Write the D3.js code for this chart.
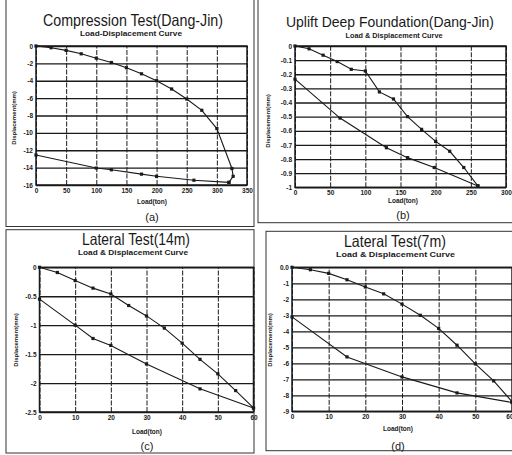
<!DOCTYPE html>
<html><head><meta charset="utf-8">
<script src="https://cdn.jsdelivr.net/npm/d3@7"></script>
<style>body{margin:0;background:#fff}svg{display:block}</style>
</head><body>
<svg id="chart" width="512" height="455"></svg>
<script>
// ---------- DATA ----------
// (a) Compression Test (Dang-Jin)
const loadA_loading = [0,25,50,75,100,125,150,175,200,225,250,275,300,325,327,320];
const dispA_loading = [0,-0.2,-0.5,-0.9,-1.4,-1.9,-2.5,-3.2,-4.0,-4.95,-6.1,-7.4,-9.5,-14.1,-15.0,-15.7];
const loadA_unloading = [320,262,200,175,125,100,0];
const dispA_unloading = [-15.7,-15.45,-15.0,-14.75,-14.25,-14.05,-12.55];
// (b) Uplift Deep Foundation (Dang-Jin)
const loadB_loading = [0,20,40,60,80,100,120,140,160,180,200,220,240,260];
const dispB_loading = [0,-0.02,-0.065,-0.11,-0.165,-0.177,-0.325,-0.375,-0.5,-0.59,-0.675,-0.745,-0.86,-0.99];
const loadB_unloading = [260,198,160,130,64,0];
const dispB_unloading = [-0.99,-0.86,-0.79,-0.72,-0.51,-0.235];
// (c) Lateral Test (14m)
const loadC_loading = [0,5,10,15,20,25,30,35,40,45,50,55,60];
const dispC_loading = [0,-0.09,-0.23,-0.36,-0.46,-0.66,-0.84,-1.05,-1.31,-1.59,-1.84,-2.13,-2.43];
const loadC_unloading = [60,45,30,20,15,10,0];
const dispC_unloading = [-2.43,-2.1,-1.67,-1.35,-1.23,-1.0,-0.55];
// (d) Lateral Test (7m)
const loadD_loading = [0,5,10,15,20,25,30,35,40,45,50,55,60];
const dispD_loading = [0,-0.15,-0.38,-0.78,-1.23,-1.66,-2.3,-3.0,-3.82,-4.87,-6.03,-7.1,-8.4];
const loadD_unloading = [60,45,30,15,0];
const dispD_unloading = [-8.45,-7.85,-6.85,-5.6,-3.1];

// ticks
const xTicksA = [0,50,100,150,200,250,300,350];
const yTicksA = [0,-2,-4,-6,-8,-10,-12,-14,-16];
const yLabelsA = ["0","-2","-4","-6","-8","-10","-12","-14","-16"];
const xTicksB = [0,50,100,150,200,250,300];
const yTicksB = [0,-0.1,-0.2,-0.3,-0.4,-0.5,-0.6,-0.7,-0.8,-0.9,-1];
const yLabelsB = ["0","-0.1","-0.2","-0.3","-0.4","-0.5","-0.6","-0.7","-0.8","-0.9","-1"];
const xTicksC = [0,10,20,30,40,50,60];
const yTicksC = [0,-0.5,-1,-1.5,-2,-2.5];
const yLabelsC = ["0","-0.5","-1","-1.5","-2","-2.5"];
const xTicksD = [0,10,20,30,40,50,60];
const yTicksD = [0,-1,-2,-3,-4,-5,-6,-7,-8,-9];
const yLabelsD = ["0.0","-1","-2","-3","-4","-5","-6","-7","-8","-9"];

const titles = ["Compression Test(Dang-Jin)","Uplift Deep Foundation(Dang-Jin)","Lateral Test(14m)","Lateral Test(7m)"];
const subtitles = ["Load-Displacement Curve","Load & Displacement Curve","Load & Displacement Curve","Load & Displacement Curve"];
const panelLetters = ["(a)","(b)","(c)","(d)"];
const xAxisTitle = "Load(ton)";
const yAxisTitle = "Displacement(mm)";

// ---------- LAYOUT ----------
const panels = [
  {xd:[0,350], yd:[0,-16], xr:[36,247], yr:[46,185], xt:xTicksA, yt:yTicksA, yl:yLabelsA,
   up:[loadA_loading,dispA_loading], dn:[loadA_unloading,dispA_unloading],
   title:{x:133,y:26,len:180,fs:16.5}, sub:{x:131,y:36,len:102}, xlab:{x:152,y:204}, letter:{x:152,y:221}, ylab:{x:16,y:118},
   box:[6,-2,254,226.5]},
  {xd:[0,300], yd:[0,-1], xr:[295,506], yr:[46,187.3], xt:xTicksB, yt:yTicksB, yl:yLabelsB,
   up:[loadB_loading,dispB_loading], dn:[loadB_unloading,dispB_unloading],
   title:{x:390,y:27,len:208,fs:14.5}, sub:{x:394,y:37.5,len:97}, xlab:{x:403,y:203}, letter:{x:403,y:218.5}, ylab:{x:270,y:121},
   box:[258,-2,516,222.7]},
  {xd:[0,60], yd:[0,-2.5], xr:[39.5,253.5], yr:[267.3,412], xt:xTicksC, yt:yTicksC, yl:yLabelsC,
   up:[loadC_loading,dispC_loading], dn:[loadC_unloading,dispC_unloading],
   title:{x:136,y:244.5,len:108,fs:16.5}, sub:{x:133,y:255,len:110}, xlab:{x:147,y:434}, letter:{x:147,y:450}, ylab:{x:18,y:340},
   box:[6,229.7,254,453]},
  {xd:[0,60], yd:[0,-9], xr:[292,512], yr:[267.3,411.3], xt:xTicksD, yt:yTicksD, yl:yLabelsD,
   up:[loadD_loading,dispD_loading], dn:[loadD_unloading,dispD_unloading],
   title:{x:395,y:246.5,len:102,fs:16.5}, sub:{x:395.5,y:257,len:119}, xlab:{x:398,y:430.5}, letter:{x:398,y:450}, ylab:{x:272,y:340},
   box:[266,231.3,516,450.7], lastEnd:true}
];

const svg = d3.select("#chart");
svg.append("rect").attr("width",512).attr("height",455).attr("fill","#fff");
const FONT = "'Liberation Sans', Arial, Helvetica, sans-serif";
const INK = "#1a1a1a";

panels.forEach((p,i)=>{
  const x = d3.scaleLinear().domain(p.xd).range(p.xr);
  const y = d3.scaleLinear().domain(p.yd).range(p.yr);
  const g = svg.append("g");
  // outer box
  const b = p.box;
  g.append("rect").attr("x",b[0]).attr("y",b[1]).attr("width",b[2]-b[0]).attr("height",b[3]-b[1])
    .attr("fill","none").attr("stroke","#333").attr("stroke-width",1);

  const w = p.xr[1]-p.xr[0], h = p.yr[1]-p.yr[0];
  // horizontal grid + y labels
  const ya = d3.axisLeft(y).tickValues(p.yt).tickFormat((d,k)=>p.yl[k]).tickSize(-w).tickPadding(3);
  const gy = g.append("g").attr("transform",`translate(${p.xr[0]},0)`).call(ya);
  gy.select(".domain").remove();
  gy.selectAll("line").attr("stroke",INK).attr("stroke-width",1.3);
  gy.selectAll("text").attr("font-family",FONT).attr("font-size",6.5).attr("font-weight","bold").attr("fill",INK);
  // vertical grid + x labels
  const xa = d3.axisBottom(x).tickValues(p.xt).tickSize(-h).tickPadding(3);
  const gx = g.append("g").attr("transform",`translate(0,${p.yr[1]})`).call(xa);
  gx.select(".domain").remove();
  gx.selectAll("line").attr("stroke",INK).attr("stroke-width",1).attr("stroke-dasharray","5,1.5");
  gx.selectAll("text").attr("font-family",FONT).attr("font-size",6.5).attr("font-weight","bold").attr("fill",INK);
  if (p.lastEnd) {
    gx.selectAll(".tick").filter((d,k,n)=>k===n.length-1).select("text").attr("text-anchor","end").attr("dx",1);
  }
  // plot frame
  g.append("rect").attr("x",p.xr[0]).attr("y",p.yr[0]).attr("width",w).attr("height",h)
    .attr("fill","none").attr("stroke",INK).attr("stroke-width",1.5);

  // curves
  const line = d3.line().x(d=>x(d[0])).y(d=>y(d[1]));
  [p.up,p.dn].forEach(s=>{
    const pts = s[0].map((v,k)=>[v,s[1][k]]);
    g.append("path").attr("d",line(pts)).attr("fill","none").attr("stroke",INK).attr("stroke-width",1.1);
    g.selectAll(null).data(pts).enter().append("rect")
      .attr("x",d=>x(d[0])-1.6).attr("y",d=>y(d[1])-1.6).attr("width",3.2).attr("height",3.2).attr("fill",INK);
  });

  // texts
  g.append("text").attr("x",p.title.x).attr("y",p.title.y).attr("text-anchor","middle")
    .attr("font-family",FONT).attr("font-size",p.title.fs).attr("fill",INK)
    .attr("textLength",p.title.len).attr("lengthAdjust","spacingAndGlyphs").text(titles[i]);
  g.append("text").attr("x",p.sub.x).attr("y",p.sub.y).attr("text-anchor","middle")
    .attr("font-family",FONT).attr("font-size",7.5).attr("font-weight","bold").attr("fill",INK)
    .attr("textLength",p.sub.len).attr("lengthAdjust","spacingAndGlyphs").text(subtitles[i]);
  g.append("text").attr("x",p.xlab.x).attr("y",p.xlab.y).attr("text-anchor","middle")
    .attr("font-family",FONT).attr("font-size",6.5).attr("font-weight","bold").attr("fill",INK).text(xAxisTitle);
  g.append("text").attr("x",p.letter.x).attr("y",p.letter.y).attr("text-anchor","middle")
    .attr("font-family",FONT).attr("font-size",11).attr("fill",INK).text(panelLetters[i]);
  g.append("text").attr("transform",`translate(${p.ylab.x},${p.ylab.y}) rotate(-90)`).attr("text-anchor","middle")
    .attr("font-family",FONT).attr("font-size",6).attr("font-weight","bold").attr("fill",INK).text(yAxisTitle);
});
</script>
</body></html>
